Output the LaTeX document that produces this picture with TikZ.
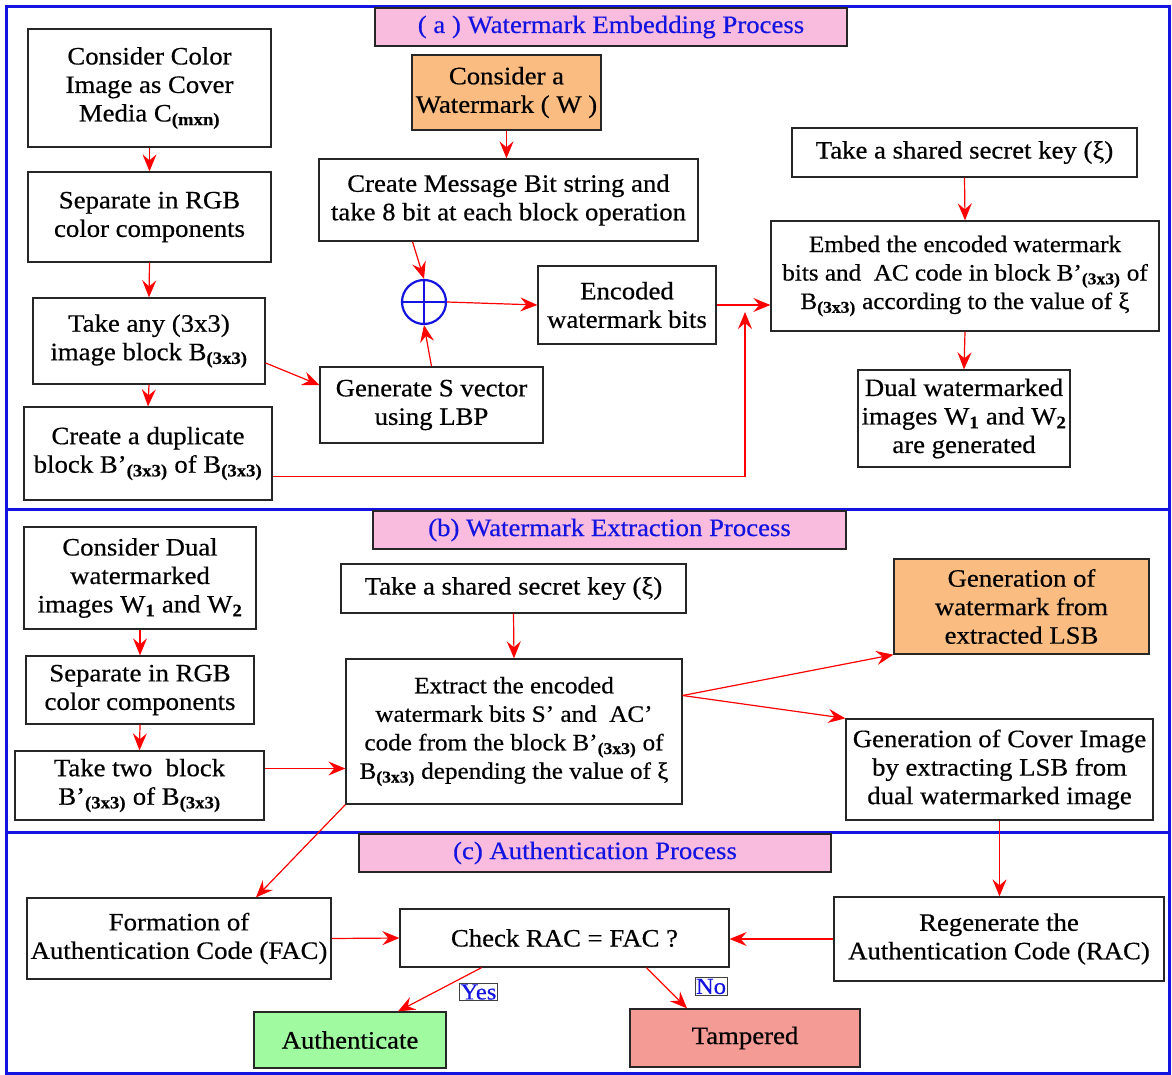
\documentclass[tikz,border=0pt]{standalone}
\usepackage{fontspec}
\setmainfont[FakeStretch=1.07,FakeBold=0.5]{Liberation Serif}
\usetikzlibrary{arrows.meta}
\definecolor{framebl}{RGB}{20,20,225}
\definecolor{titlepk}{RGB}{250,188,222}
\definecolor{wmorange}{RGB}{250,188,128}
\definecolor{okgreen}{RGB}{160,250,160}
\definecolor{badred}{RGB}{245,155,150}
\newcommand{\bsub}[1]{\textsubscript{\textbf{#1}}}
\tikzset{
  box/.style={draw=black!85, line width=1.3pt, fill=white, align=center, inner sep=0pt, font=\fontsize{25}{28.5}\selectfont},
  widebox/.style={box, font=\fontsize{23.5}{28.5}\selectfont},
  title/.style={box, fill=titlepk, text=framebl},
  tag/.style={draw=black!75, line width=0.8pt, fill=white, text=framebl, inner sep=1pt, font=\fontsize{23}{26}\selectfont},
  arr/.style={draw=red, line width=1.2pt, -{Stealth[length=17pt,width=14pt,inset=6pt]}},
}
\begin{document}
\begin{tikzpicture}[x=1pt,y=-1pt]
\useasboundingbox (0,0) rectangle (1172,1075);
\draw[framebl,line width=3pt] (6,7) rectangle (1169,1073);
\draw[framebl,line width=3pt] (6,509) -- (1169,509);
\draw[framebl,line width=3pt] (6,832) -- (1169,832);
% (a) embedding
\node[title, minimum width=472pt, minimum height=38pt] (titlea) at (611,27) {( a ) Watermark Embedding Process};
\node[box, minimum width=243pt, minimum height=118pt] (cover) at (149.5,88) {Consider Color\\Image as Cover\\Media C\bsub{(mxn)}};
\node[box, minimum width=243pt, minimum height=90pt] (sepa) at (149.5,217) {Separate in RGB\\color components};
\node[box, minimum width=232pt, minimum height=86pt] (blka) at (149,341) {Take any (3x3)\\image block B\bsub{(3x3)}};
\node[box, minimum width=248pt, minimum height=93pt] (dupa) at (148,453.5) {Create a duplicate\\block B'\bsub{(3x3)} of B\bsub{(3x3)}};
\node[box, fill=wmorange, minimum width=189pt, minimum height=75pt] (wmark) at (506.5,92.5) {Consider a\\Watermark ( W )};
\node[box, minimum width=379pt, minimum height=82pt] (msg) at (508.5,200) {Create Message Bit string and\\take 8 bit at each block operation};
\node[circle, draw=framebl, line width=2.2pt, minimum size=44pt, inner sep=0pt] (xor) at (424,302) {};
\draw[framebl, line width=2.2pt] (xor.north) -- (xor.south) (xor.west) -- (xor.east);
\node[box, minimum width=178pt, minimum height=78pt] (enc) at (627,305) {Encoded\\watermark bits};
\node[box, minimum width=223pt, minimum height=76pt] (lbp) at (431.5,405) {Generate S vector\\using LBP};
\node[box, minimum width=345pt, minimum height=49pt] (keya) at (964.5,152.5) {Take a shared secret key (ξ)};
\node[widebox, minimum width=388pt, minimum height=110pt] (embed) at (965,276) {Embed the encoded watermark\\bits and\ \ AC code in block B'\bsub{(3x3)} of\\B\bsub{(3x3)} according to the value of ξ};
\node[box, minimum width=212pt, minimum height=97pt] (dual) at (964,418.5) {Dual watermarked\\images W\bsub{1} and W\bsub{2}\\are generated};
\coordinate (merge) at (745,312);
\draw[arr] (cover.south) -- (sepa.north);
\draw[arr] (sepa.south) -- (blka.north);
\draw[arr] (blka.south) -- (dupa.north);
\draw[arr] (wmark.south) -- (wmark.south |- msg.north);
\draw[arr] ([xshift=-96pt]msg.south) -- (xor.north);
\draw[arr] ([yshift=-22pt]blka.east) -- ([yshift=20pt]lbp.west);
\draw[arr] (lbp.north) -- (xor.south);
\draw[arr] (xor.east) -- (enc.west);
\draw[arr] (enc.east) -- (enc.east -| embed.west);
\draw[arr] ([yshift=-23pt]dupa.east) -| (merge);
\draw[arr] (keya.south) -- (embed.north);
\draw[arr] (embed.south) -- (dual.north);
% (b) extraction
\node[title, minimum width=473pt, minimum height=38pt] (titleb) at (609.5,530) {(b) Watermark Extraction Process};
\node[box, minimum width=232pt, minimum height=102pt] (dualb) at (140,578) {Consider Dual\\watermarked\\images W\bsub{1} and W\bsub{2}};
\node[box, minimum width=228pt, minimum height=68pt] (sepb) at (140,690) {Separate in RGB\\color components};
\node[box, minimum width=249pt, minimum height=69pt] (blkb) at (139.5,785.5) {Take two\ \ block\\B'\bsub{(3x3)} of B\bsub{(3x3)}};
\node[box, minimum width=345pt, minimum height=49pt] (keyb) at (513.5,588.5) {Take a shared secret key (ξ)};
\node[widebox, minimum width=336pt, minimum height=145pt] (extr) at (514,731.5) {Extract the encoded\\watermark bits S' and\ \ AC'\\code from the block B'\bsub{(3x3)} of\\B\bsub{(3x3)} depending the value of ξ};
\node[box, fill=wmorange, minimum width=255pt, minimum height=95pt] (genw) at (1021.5,606.5) {Generation of\\watermark from\\extracted LSB};
\node[box, minimum width=307pt, minimum height=101pt] (genc) at (999.5,769.5) {Generation of Cover Image\\by extracting LSB from\\dual watermarked image};
\coordinate (fork) at ([yshift=36pt]extr.east);
\draw[arr] (dualb.south) -- (sepb.north);
\draw[arr] (sepb.south) -- (blkb.north);
\draw[arr] (keyb.south) -- (extr.north);
\draw[arr] ([yshift=17pt]blkb.east) -- ([yshift=17pt]blkb.east -| extr.west);
\draw[arr] (fork) -- (genw.south west);
\draw[arr] (fork) -- (genc.north west);
% (c) authentication
\node[title, minimum width=472pt, minimum height=38pt] (titlec) at (595,853) {(c) Authentication Process};
\node[box, minimum width=304pt, minimum height=81pt] (fac) at (179,938.5) {Formation of\\Authentication Code (FAC)};
\node[box, minimum width=329pt, minimum height=58pt] (check) at (564.5,938) {Check RAC = FAC ?};
\node[box, minimum width=330pt, minimum height=84pt] (rac) at (999,939) {Regenerate the\\Authentication Code (RAC)};
\node[box, fill=okgreen, minimum width=192pt, minimum height=56pt] (auth) at (350,1040) {Authenticate};
\node[box, fill=badred, minimum width=230pt, minimum height=58pt] (tamp) at (745,1038) {Tampered};
\node[tag] (yes) at (478.5,992) {Yes};
\node[tag] (no) at (711,986.5) {No};
\draw[arr] (extr.south west) -- ([xshift=77pt]fac.north);
\draw[arr] (genc.south) -- (genc.south |- rac.north);
\draw[arr] (fac.east) -- (check.west);
\draw[arr] (rac.west) -- (rac.west -| check.east);
\draw[arr] ([xshift=-83pt]check.south) -- ([xshift=48pt]auth.north);
\draw[arr] ([xshift=82pt]check.south) -- ([xshift=-58pt]tamp.north);
\end{tikzpicture}
\end{document}
